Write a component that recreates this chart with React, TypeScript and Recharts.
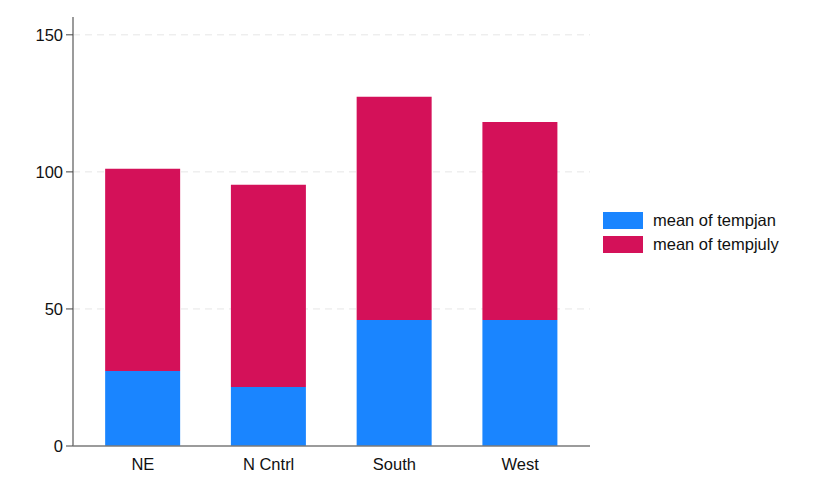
import { BarChart, Bar, XAxis, YAxis, CartesianGrid } from "recharts";

const regions = ["NE", "N Cntrl", "South", "West"];
const tempjan = [27.4, 21.5, 46.0, 46.0];
const tempjuly = [73.7, 73.8, 81.4, 72.2];
const yTicks = [0, 50, 100, 150];

const data = regions.map((region, i) => ({
  region,
  tempjan: tempjan[i],
  tempjuly: tempjuly[i],
}));

const font = "'Liberation Sans', Arial, sans-serif";

const series = [
  { key: "tempjan", label: "mean of tempjan", color: "#1a85ff" },
  { key: "tempjuly", label: "mean of tempjuly", color: "#d41159" },
];

function LegendBox() {
  return (
    <div
      style={{
        position: "absolute",
        left: 603,
        top: 208,
        fontFamily: font,
        fontSize: 16.5,
        color: "#111",
      }}
    >
      {series.map((s) => (
        <div
          key={s.key}
          style={{ display: "flex", alignItems: "center", height: 24 }}
        >
          <span
            style={{
              display: "inline-block",
              width: 40,
              height: 17,
              background: s.color,
              marginRight: 10,
            }}
          />
          <span>{s.label}</span>
        </div>
      ))}
    </div>
  );
}

export default function App() {
  return (
    <div
      style={{
        position: "absolute",
        left: 0,
        top: 0,
        width: 820,
        height: 492,
        background: "#fff",
      }}
    >
      <BarChart
        width={820}
        height={492}
        data={data}
        margin={{ top: 17, right: 230, bottom: 16, left: 0 }}
        barCategoryGap="20%"
      >
        <CartesianGrid
          vertical={false}
          stroke="#e6e6e6"
          strokeDasharray="7 5"
          horizontalValues={[50, 100, 150]}
        />
        <XAxis
          dataKey="region"
          tickLine={false}
          axisLine={{ stroke: "#7a7a7a", strokeWidth: 1.5 }}
          tick={{ fill: "#111", fontSize: 16.5, fontFamily: font }}
          padding={{ left: 7, right: 7 }}
          height={30}
          tickMargin={6}
        />
        <YAxis
          width={73}
          domain={[0, 156.5]}
          ticks={yTicks}
          tickSize={7}
          tickLine={{ stroke: "#444" }}
          axisLine={{ stroke: "#7a7a7a", strokeWidth: 1.5 }}
          tick={{ fill: "#111", fontSize: 16.5, fontFamily: font }}
          tickMargin={3}
          allowDataOverflow
        />
        {series.map((s) => (
          <Bar
            key={s.key}
            dataKey={s.key}
            stackId="a"
            fill={s.color}
            isAnimationActive={false}
          />
        ))}
      </BarChart>
      <LegendBox />
    </div>
  );
}
